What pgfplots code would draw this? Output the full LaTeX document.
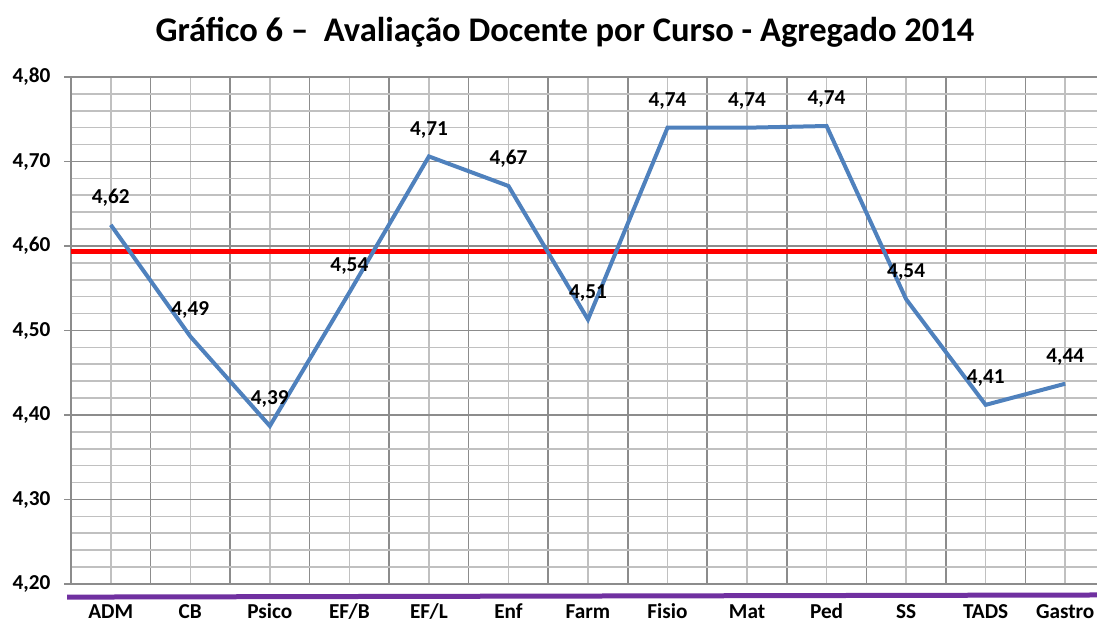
\documentclass[border=0pt]{standalone}
\usepackage{fontspec}
\setmainfont{Carlito}
\usepackage{pgfplots}
\pgfplotsset{compat=1.18}
\definecolor{lineblue}{HTML}{4F81BD}
\definecolor{xlpurple}{HTML}{7030A0}
\definecolor{gridlight}{HTML}{C0C0C0}
\definecolor{griddark}{HTML}{8C8C8C}
\begin{document}
\begin{tikzpicture}
\begin{axis}[
  scale only axis,
  width=769.5bp, height=380.25bp,
  xmin=-0.5, xmax=12.4,
  ymin=4.2, ymax=4.8,
  clip=false,
  axis x line*=bottom, axis y line*=left,
  axis line style={griddark, line width=0.8bp},
  xtick={0,...,12},
  xticklabels={ADM,CB,Psico,EF/B,EF/L,Enf,Farm,Fisio,Mat,Ped,SS,TADS,Gastro},
  minor xtick={-0.5,0.5,...,12.5},
  ytick={4.2,4.3,...,4.81},
  minor y tick num=4,
  grid=both,
  major x grid style={gridlight, line width=1.2bp},
  minor x grid style={griddark, line width=1.2bp},
  major y grid style={griddark, line width=1.2bp},
  minor y grid style={gridlight, line width=1.2bp},
  tick align=outside,
  major tick length=5bp,
  minor tick length=5bp,
  x tick style={draw=none},
  minor x tick style={griddark, line width=0.8bp},
  y tick style={griddark, line width=0.8bp},
  minor y tick style={draw=none},
  tick label style={font=\fontsize{16}{19}\selectfont\bfseries},
  xticklabel style={text height=0.66em, text depth=0pt, inner ysep=0pt, yshift=-14bp},
  yticklabel style={xshift=-7bp},
  /pgf/number format/.cd, use comma, fixed, fixed zerofill, precision=2, assume math mode=true,
]
\addplot[red, line width=3.75bp] coordinates {(-0.5,4.594) (12.4,4.594)};
\addplot[xlpurple, line width=3.75bp] coordinates {(-0.55,4.1845) (12.4,4.187)};
\addplot[lineblue, line width=3bp,
  nodes near coords, point meta=explicit symbolic,
  every node near coord/.append style={font=\fontsize{16}{19}\selectfont\bfseries, black, yshift=9bp, anchor=south}]
  coordinates {
  (0,4.625) [4,62]
  (1,4.493) [4,49]
  (2,4.387) [4,39]
  (3,4.545) [4,54]
  (4,4.706) [4,71]
  (5,4.671) [4,67]
  (6,4.513) [4,51]
  (7,4.740) [4,74]
  (8,4.740) [4,74]
  (9,4.742) [4,74]
  (10,4.537) [4,54]
  (11,4.412) [4,41]
  (12,4.437) [4,44]
  };
\end{axis}
\node[font=\fontsize{26}{30}\selectfont\bfseries] at (370.5bp,414bp) {Gráfico 6 –~ Avaliação Docente por Curso - Agregado 2014};
\pgfresetboundingbox
\useasboundingbox (-53.25bp,-27.75bp) rectangle (769.5bp,438bp);
\end{tikzpicture}
\end{document}
